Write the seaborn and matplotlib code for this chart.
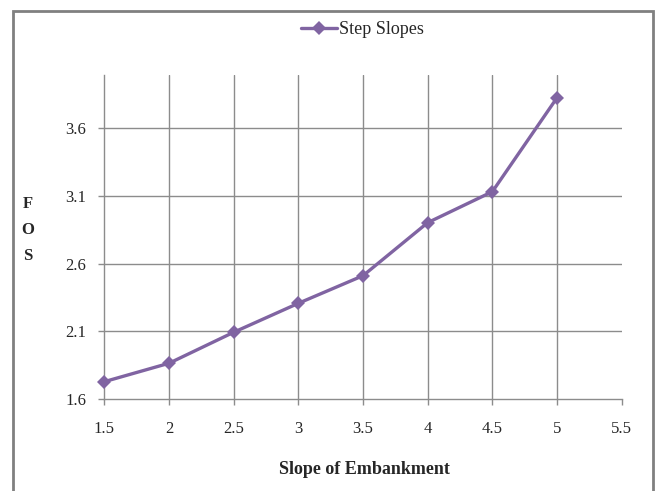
import matplotlib
matplotlib.use("Agg")
import matplotlib.pyplot as plt
import matplotlib.patches as mpatches
import seaborn as sns
import pandas as pd

# Factor of safety against embankment slope
slope = [1.5, 2.0, 2.5, 3.0, 3.5, 4.0, 4.5, 5.0]
fos = [1.728, 1.864, 2.093, 2.307, 2.511, 2.903, 3.132, 3.826]
series_name = "Step Slopes"

x_ticks = [1.5, 2, 2.5, 3, 3.5, 4, 4.5, 5, 5.5]
x_tick_labels = ["1.5", "2", "2.5", "3", "3.5", "4", "4.5", "5", "5.5"]
y_ticks = [1.6, 2.1, 2.6, 3.1, 3.6]
y_tick_labels = ["1.6", "2.1", "2.6", "3.1", "3.6"]

df = pd.DataFrame({"Slope": slope, "FOS": fos, "Series": series_name})

sns.set_theme(style="white")
plt.rcParams["font.family"] = ["Liberation Serif", "DejaVu Serif"]

purple = "#8064A2"
grid_col = "#8c8c8c"

fig = plt.figure(figsize=(6.55, 4.91), dpi=100)
ax = fig.add_axes([104.3 / 655, 1 - 399 / 491, (621.7 - 104.3) / 655, (399 - 75) / 491])

sns.lineplot(data=df, x="Slope", y="FOS", hue="Series", palette=[purple],
             marker="D", markersize=7.5, markeredgewidth=0, linewidth=2.4,
             ax=ax, legend=True, clip_on=False, zorder=5)

ax.set_xlim(1.5, 5.5)
ax.set_ylim(1.6, 3.994)
ax.set_xticks(x_ticks)
ax.set_xticklabels(x_tick_labels)
ax.set_yticks(y_ticks)
ax.set_yticklabels(y_tick_labels)

# Gridlines: verticals at the interior x ticks, horizontals at the y ticks
for xv in x_ticks[1:-1]:
    ax.axvline(xv, color=grid_col, linewidth=1.0, zorder=0)
for yv in y_ticks[1:]:
    ax.axhline(yv, color=grid_col, linewidth=1.0, zorder=0)

for side in ["top", "right"]:
    ax.spines[side].set_visible(False)
for side in ["left", "bottom"]:
    ax.spines[side].set_color(grid_col)
    ax.spines[side].set_linewidth(1.0)

ax.tick_params(axis="x", direction="out", length=4, width=1.0, color=grid_col,
               pad=12, labelsize=12, bottom=True)
ax.tick_params(axis="y", direction="out", length=4, width=1.0, color=grid_col,
               pad=9, labelsize=12, left=True)

ax.set_xlabel("")
ax.set_ylabel("")
fig.text(364 / 655, 1 - 469 / 491, "Slope of Embankment", ha="center", va="center",
         fontsize=13, fontweight="bold")
fig.text(28 / 655, 1 - 230 / 491, "F\nO\nS", ha="center", va="center",
         fontsize=12, fontweight="bold", linespacing=1.85)

handles, labels = ax.get_legend_handles_labels()
ax.legend(handles, labels, loc="center", bbox_to_anchor=(362 / 655, 1 - 30 / 491),
          bbox_transform=fig.transFigure, frameon=False, fontsize=13,
          handlelength=2.0, handletextpad=0.1)

# Outer chart frame
fig.patches.append(mpatches.Rectangle((12.5 / 655, -0.05), (652.5 - 12.5) / 655,
                                      1.05 - 11.5 / 491, transform=fig.transFigure,
                                      fill=False, edgecolor="#808080", linewidth=2.0))

fig.savefig("out.png", dpi=100)
